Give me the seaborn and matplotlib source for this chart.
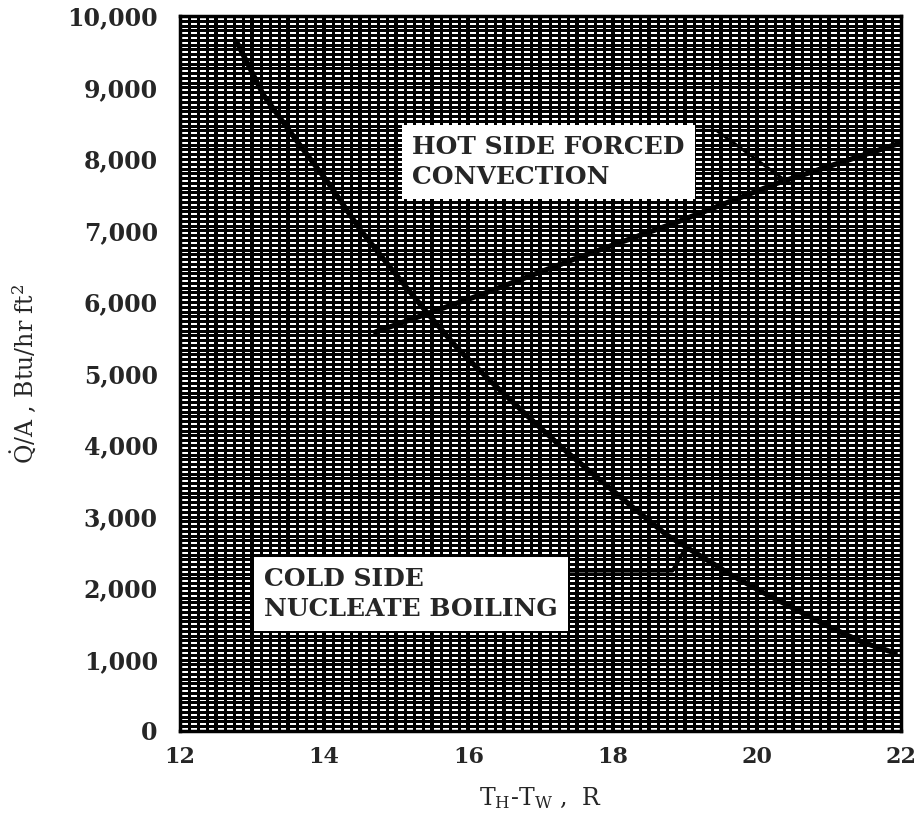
import matplotlib
matplotlib.use("Agg")
import matplotlib.pyplot as plt
from matplotlib.ticker import MultipleLocator
import numpy as np
import seaborn as sns

# values
cold_dt = [12.78, 13.16, 13.60, 14.06, 14.50, 14.95, 15.41, 15.85, 16.30, 16.90,
           17.38, 17.84, 18.29, 18.74, 19.20, 19.65, 20.10, 20.56, 21.02, 21.47, 21.92]
cold_q = [9650, 8890, 8280, 7660, 7010, 6440, 5870, 5350, 4900, 4330,
          3890, 3500, 3120, 2750, 2460, 2180, 1930, 1690, 1450, 1240, 1090]

hot_dt = [14.71, 16.14, 17.52, 18.90, 20.28, 21.98]
hot_q = [5580, 6090, 6620, 7120, 7660, 8220]

# leader lines from the labels to the curves
hot_leader_dt = [19.12, 19.44, 20.42]
hot_leader_q = [8400, 8400, 7680]
cold_leader_dt = [17.36, 18.83, 19.02]
cold_leader_q = [2240, 2240, 2570]

x_ticks = [12, 14, 16, 18, 20, 22]
y_ticks = [0, 1000, 2000, 3000, 4000, 5000, 6000, 7000, 8000, 9000, 10000]
y_labels = ["0", "1,000", "2,000", "3,000", "4,000", "5,000",
            "6,000", "7,000", "8,000", "9,000", "10,000"]

sns.set_theme(style="white")
plt.rcParams["font.family"] = ["DejaVu Serif"]
plt.rcParams["mathtext.fontset"] = "dejavuserif"

fig = plt.figure(figsize=(9.17, 8.16), dpi=100)
# plot frame: x 180..901 px, y 16..731 px
ax = fig.add_axes([180 / 917, 1 - 731 / 816, 721 / 917, 715 / 816])
ax.set_facecolor("white")

ax.set_xlim(12, 22)
ax.set_ylim(0, 10000)

# graph-paper grid
ax.set_axisbelow(True)
ax.xaxis.set_minor_locator(MultipleLocator(0.125))
ax.yaxis.set_minor_locator(MultipleLocator(1000 / 15))
ax.grid(which="both", axis="x", color="black", lw=2.0, antialiased=False)
ax.grid(which="both", axis="y", color="black", lw=1.0, antialiased=False)
for xv in np.arange(12.5, 22, 0.5):
    ax.axvline(xv, color="black", lw=2.6, antialiased=False, zorder=0.6)

sns.lineplot(x=cold_dt, y=cold_q, color="black", lw=3.8, ax=ax, zorder=3)
sns.lineplot(x=hot_dt, y=hot_q, color="black", lw=3.8, ax=ax, zorder=3)
ax.plot(hot_leader_dt, hot_leader_q, color="black", lw=2.2, zorder=3)
ax.plot(cold_leader_dt, cold_leader_q, color="black", lw=2.6, zorder=3)

box = dict(boxstyle="square,pad=0.4", facecolor="white", edgecolor="none")
ax.text(15.22, 7960, "HOT SIDE FORCED\nCONVECTION", ha="left", va="center",
        fontsize=18, fontweight="bold", linespacing=1.3, bbox=box, zorder=5)
ax.text(13.17, 1915, "COLD SIDE\nNUCLEATE BOILING", ha="left", va="center",
        fontsize=18, fontweight="bold", linespacing=1.3, bbox=box, zorder=5)

ax.set_xticks(x_ticks)
ax.set_xticklabels([str(t) for t in x_ticks])
ax.set_yticks(y_ticks)
ax.set_yticklabels(y_labels)
ax.tick_params(axis="both", which="both", length=0)
ax.tick_params(axis="x", pad=11, labelsize=16)
ax.tick_params(axis="y", pad=16, labelsize=17)
for lab in ax.get_xticklabels() + ax.get_yticklabels():
    lab.set_fontweight("bold")

ax.set_xlabel(r"T$_\mathrm{H}$-T$_\mathrm{W}$ ,  R", fontsize=17)
ax.set_ylabel(r"$\dot{\mathrm{Q}}$/A , Btu/hr ft$^2$", fontsize=17)
ax.xaxis.set_label_coords(0.5, -0.076)
ax.yaxis.set_label_coords(-0.196, 0.5)

for side in ax.spines.values():
    side.set_color("black")
    side.set_linewidth(2.5)

fig.savefig("out.png", dpi=100)
